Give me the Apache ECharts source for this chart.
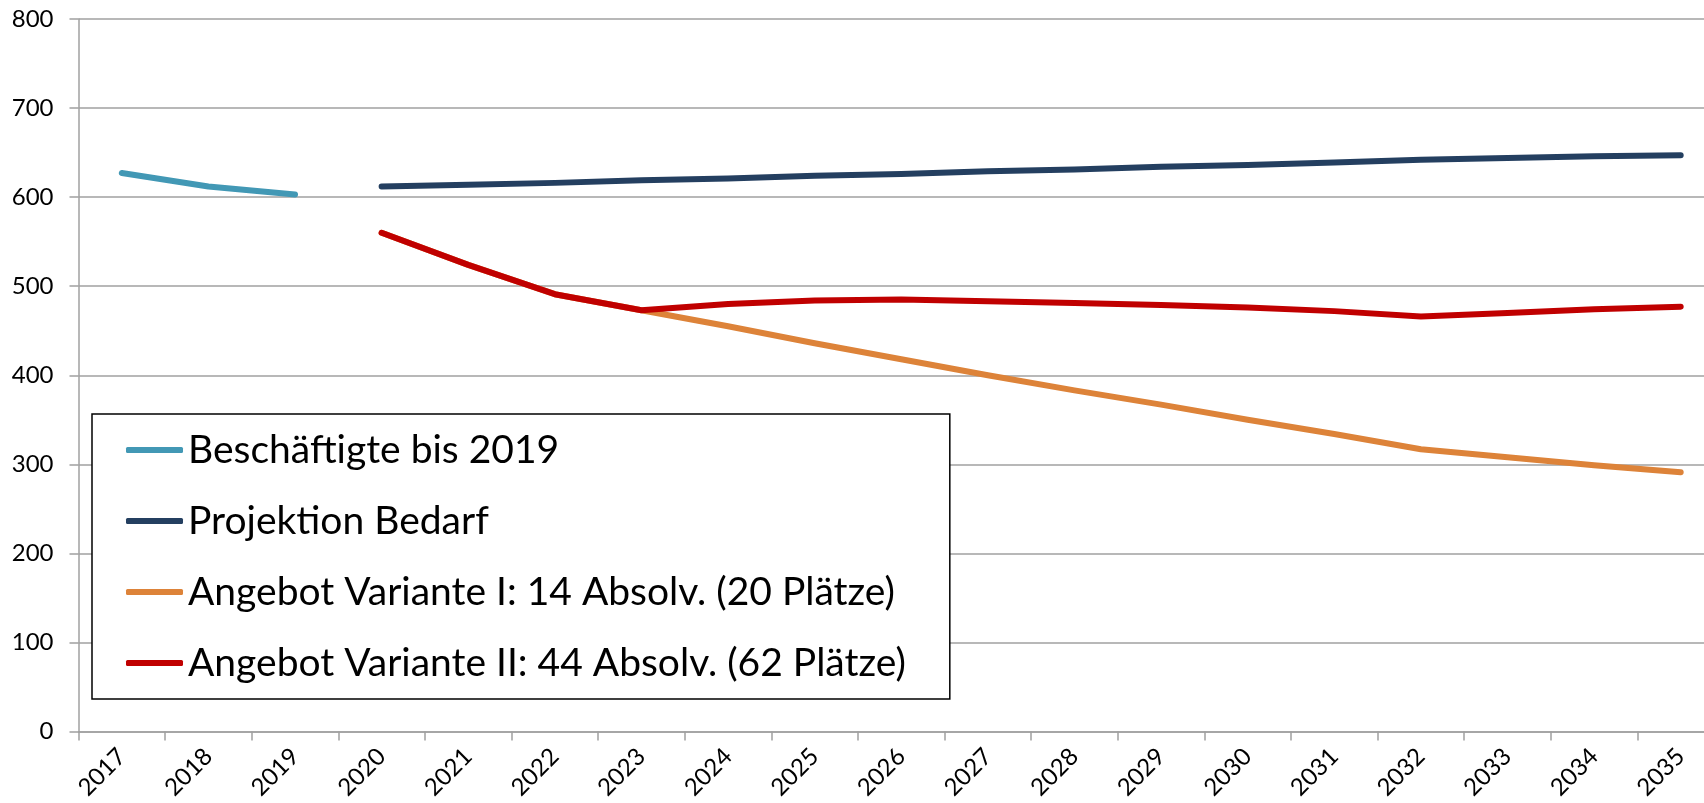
<!DOCTYPE html>
<html>
<head>
<meta charset="utf-8">
<script src="https://cdn.jsdelivr.net/npm/echarts@6/dist/echarts.min.js"></script>
<style>
  html, body { margin: 0; padding: 0; background: #fff; }
  #chart { width: 1704px; height: 803px; }
</style>
</head>
<body>
<div id="chart"></div>
<script>
const years = ['2017', '2018', '2019', '2020', '2021', '2022', '2023', '2024', '2025', '2026',
  '2027', '2028', '2029', '2030', '2031', '2032', '2033', '2034', '2035']

// Werte
const beschaeftigte = [627, 612, 603, null, null, null, null, null, null, null,
  null, null, null, null, null, null, null, null, null]
const bedarf = [null, null, null, 612, 614, 616, 619, 621, 624, 626,
  629, 631, 634, 636, 639, 642, 644, 646, 647]
const varianteI = [null, null, null, 560, 524, 491, 473, 455, 436, 418,
  400, 383, 367, 350, 334, 317, 308, 299, 291]
const varianteII = [null, null, null, 560, 524, 491, 473, 480, 484, 485,
  483, 481, 479, 476, 472, 466, 470, 474, 477]

const font = 'Lato'

function line(name, data, color) {
  return {
    name: name,
    type: 'line',
    data: data,
    showSymbol: false,
    connectNulls: false,
    lineStyle: { color: color, width: 6, cap: 'round', join: 'round' },
    itemStyle: { color: color }
  }
}

const chart = echarts.init(document.getElementById('chart'))
chart.setOption({
  animation: false,
  backgroundColor: '#fff',
  grid: { left: 78.5, right: -20, top: 19, bottom: 71.5, containLabel: false, outerBoundsMode: 'none' },
  xAxis: {
    type: 'category',
    data: years,
    boundaryGap: true,
    axisLine: { lineStyle: { color: '#a0a0a0', width: 1.5 } },
    axisTick: { show: true, length: 9, lineStyle: { color: '#a0a0a0', width: 1.5 } },
    axisLabel: { rotate: 45, margin: 21, color: '#000', fontFamily: font, fontSize: 24, interval: 0 }
  },
  yAxis: {
    type: 'value',
    min: 0,
    max: 800,
    interval: 100,
    axisLine: { show: true, lineStyle: { color: '#a0a0a0', width: 1.5 } },
    axisTick: { show: true, length: 9, lineStyle: { color: '#a0a0a0', width: 1.5 } },
    splitLine: { lineStyle: { color: '#a0a0a0', width: 1.5 } },
    axisLabel: { margin: 25, color: '#000', fontFamily: font, fontSize: 24 }
  },
  legend: {
    orient: 'vertical',
    left: 92,
    top: 414,
    backgroundColor: '#fff',
    borderColor: '#000',
    borderWidth: 1.5,
    borderRadius: 0,
    padding: [16, 44, 16, 34],
    itemGap: 31,
    itemWidth: 57,
    itemHeight: 6,
    icon: 'roundRect',
    textStyle: { color: '#000', fontFamily: font, fontSize: 39, lineHeight: 40 },
    data: ['Beschäftigte bis 2019', 'Projektion Bedarf',
      'Angebot Variante I: 14 Absolv. (20 Plätze)', 'Angebot Variante II: 44 Absolv. (62 Plätze)']
  },
  series: [
    line('Beschäftigte bis 2019', beschaeftigte, '#4298b5'),
    line('Projektion Bedarf', bedarf, '#243f60'),
    line('Angebot Variante I: 14 Absolv. (20 Plätze)', varianteI, '#dd8339'),
    line('Angebot Variante II: 44 Absolv. (62 Plätze)', varianteII, '#c00000')
  ]
})
</script>
</body>
</html>
